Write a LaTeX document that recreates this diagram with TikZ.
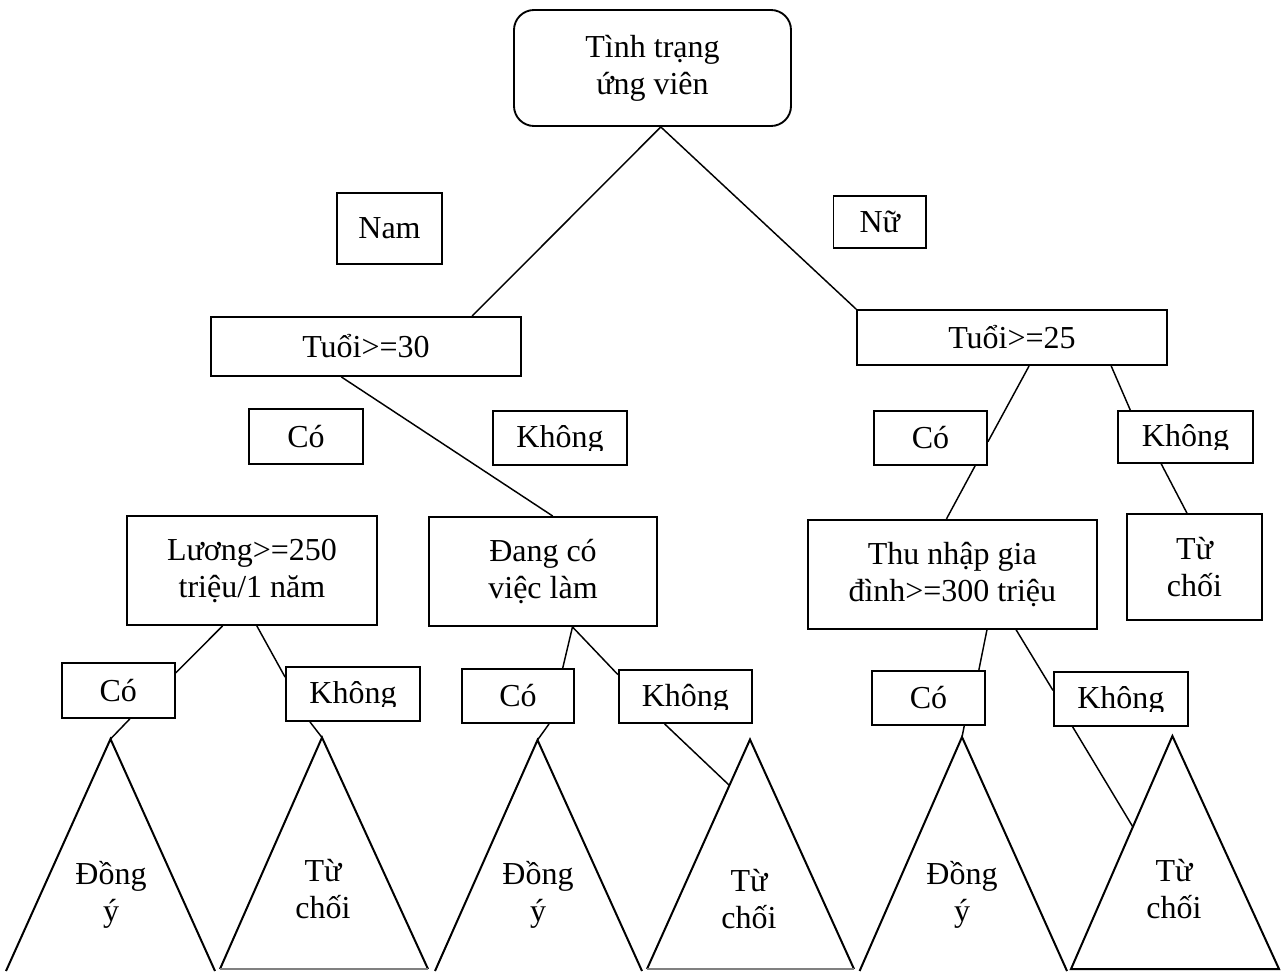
\documentclass[tikz,border=0pt]{standalone}
\usepackage{fontspec}
\setmainfont{Liberation Serif}
\usepackage{trimclip}
\usetikzlibrary{calc}

\newcommand{\khong}{\clipbox{0pt 3pt 0pt 0pt}{Không}}

\tikzset{
	box/.style={draw, line width=1.4pt, fill=white, align=center, inner sep=0pt, font=\fontsize{24}{27.75}\selectfont},
	link/.style={line width=1.1pt},
	leaf/.style={line width=1.5pt},
	leaftext/.style={align=center, inner sep=0pt, font=\fontsize{24}{27.75}\selectfont},
}

\begin{document}
\begin{tikzpicture}[x=0.75pt,y=0.75pt,yscale=-1,xscale=1]
	\useasboundingbox (0,0) rectangle (1287,971);
	
	% Root
	\node [box, rounded corners=15pt, minimum width=207.75pt, minimum height=87pt] (root) at (652.5,68) {Tình trạng\\ứng viên};
	\node [box, minimum width=78.75pt, minimum height=53.25pt] (nam) at (389.5,228.5) {Nam};
	\node [box, minimum width=69.4pt, minimum height=39pt] (nu) at (879.75,222) {Nữ};
	
	% Level 1
	\node [box, minimum width=232.5pt, minimum height=44.25pt] (t30) at (366,346.5) {Tuổi>=30};
	\node [box, minimum width=232.5pt, minimum height=41.25pt] (t25) at (1012,337.5) {Tuổi>=25};
	\node [box, minimum width=85.5pt, minimum height=41.25pt] (co2) at (306,436.5) {Có};
	\node [box, minimum width=100.5pt, minimum height=40.5pt] (ko2) at (560,438) {\khong};
	\node [box, minimum width=84.75pt, minimum height=40.5pt] (co4) at (930.5,437.7) {Có};
	\node [box, minimum width=101.25pt, minimum height=39pt] (ko4) at (1185.5,437) {\khong};
	
	% Level 2
	\node [box, minimum width=187.5pt, minimum height=81.75pt] (lg) at (252,570.5) {Lương>=250\\triệu/1 năm};
	\node [box, minimum width=171pt, minimum height=81.75pt] (dang) at (543,571.5) {Đang có\\việc làm};
	\node [box, minimum width=216.75pt, minimum height=81.75pt] (th) at (952.3,574.3) {Thu nhập gia\\đình>=300 triệu};
	\node [box, minimum width=101.25pt, minimum height=79.5pt] (tc) at (1194.5,567) {Từ\\chối};
	
	% Level 3
	\node [box, minimum width=84.75pt, minimum height=41.25pt] (co1) at (118.3,690.5) {Có};
	\node [box, minimum width=100.5pt, minimum height=40.5pt] (ko1) at (353,694) {\khong};
	\node [box, minimum width=84pt, minimum height=40.5pt] (co3) at (518,696) {Có};
	\node [box, minimum width=99.75pt, minimum height=39.75pt] (ko3) at (685.3,696.5) {\khong};
	\node [box, minimum width=85.1pt, minimum height=40.5pt] (co5) at (928.5,697.8) {Có};
	\node [box, minimum width=100.5pt, minimum height=40.5pt] (ko5) at (1120.9,698.7) {\khong};
	
	% Leaves
	\coordinate (ap1) at (110.5,739);
	\coordinate (bl1) at (6,971);
	\coordinate (br1) at (215,971);
	\coordinate (ap2) at (322,737.5);
	\coordinate (bl2) at (220,969);
	\coordinate (br2) at (428,969);
	\coordinate (ap3) at (537.5,740);
	\coordinate (bl3) at (435,971);
	\coordinate (br3) at (642,971);
	\coordinate (ap4) at (750,739.5);
	\coordinate (bl4) at (647,969);
	\coordinate (br4) at (854,969);
	\coordinate (ap5) at (962,737);
	\coordinate (bl5) at (859.6,971);
	\coordinate (br5) at (1067,971);
	\coordinate (ap6) at (1172.4,736);
	\coordinate (bl6) at (1071,969);
	\coordinate (br6) at (1279,969);
	\coordinate (s4) at ($(ap4)!0.2!(bl4)$);
	\coordinate (s6) at ($(ap6)!0.39!(bl6)$);
	
	\draw [leaf] (bl1) -- (ap1) -- (br1);
	\draw [leaf] (bl2) -- (ap2) -- (br2);
	\draw [link, black!50] (bl2) -- (br2);
	\draw [leaf] (bl3) -- (ap3) -- (br3);
	\draw [leaf] (bl4) -- (ap4) -- (br4);
	\draw [link, black!50] (bl4) -- (br4);
	\draw [leaf] (bl5) -- (ap5) -- (br5);
	\draw [leaf] (bl6) -- (ap6) -- (br6) -- cycle;
	
	\node [leaftext] (dy1) at (111,895) {Đồng\\ý};
	\node [leaftext] (tc2) at (323,889) {Từ\\chối};
	\node [leaftext] (dy3) at (538,895) {Đồng\\ý};
	\node [leaftext] (tc4) at (749,899) {Từ\\chối};
	\node [leaftext] (dy5) at (962,895) {Đồng\\ý};
	\node [leaftext] (tc6) at (1174,889) {Từ\\chối};
	
	% Connectors
	\draw [link] (root.-82) -- (t30.16);
	\draw [link] (root.-82) -- (t25.north west);
	\draw [link] (t30.-129) -- (dang.80);
	\draw [link] (t25.-59) -- (co4.-4);
	\draw [link] (co4.-32) -- (th.96);
	\draw [link] (t25.-16) -- (ko4.154);
	\draw [link] (ko4.-132) -- (tc.98);
	\draw [link] (lg.-118) -- (co1.17);
	\draw [link] (lg.-85) -- (ko1.166);
	\draw [link] (dang.-62) -- (co3.32);
	\draw [link] (dang.-62) -- (ko3.162);
	\draw [link] (th.-58) -- (co5.29);
	\draw [link] (th.-41) -- (ko5.173);
	\draw [link] (co1.-68) -- (ap1);
	\draw [link] (ko1.-147) -- (ap2);
	\draw [link] (co3.-42) -- (ap3);
	\draw [link] (ko3.-127) -- (s4);
	\draw [link] (co5.-38) -- (ap5);
	\draw [link] (ko5.-150) -- (s6);
	
\end{tikzpicture}
\end{document}
